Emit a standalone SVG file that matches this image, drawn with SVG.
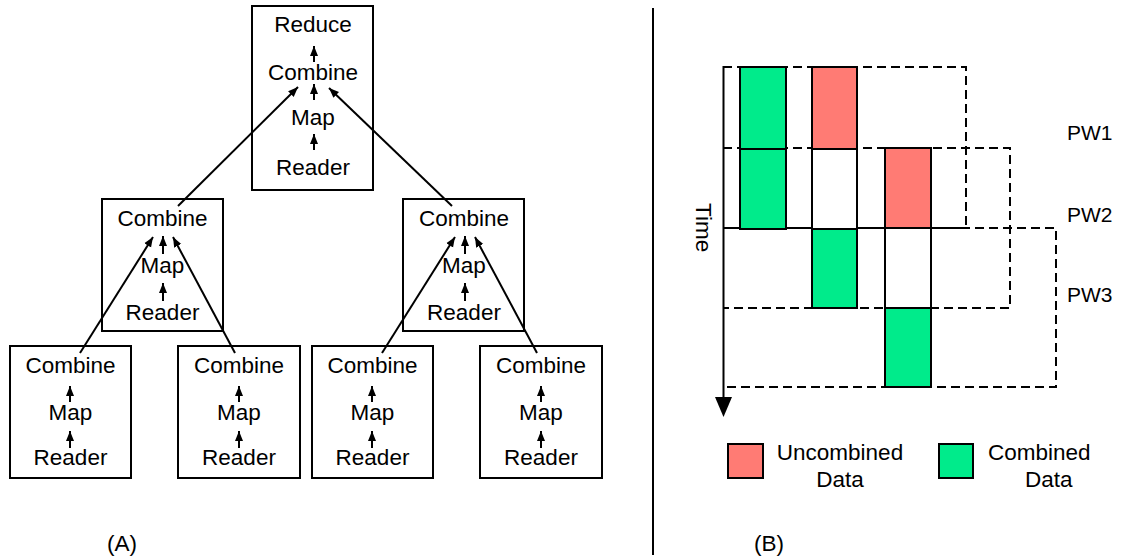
<svg xmlns="http://www.w3.org/2000/svg" width="1126" height="558" viewBox="0 0 1126 558">
  <style>
    text { font-family: "Liberation Sans", Arial, sans-serif; font-size: 22.5px; fill: #000; }
    .c { text-anchor: middle; }
    .box { fill: #fff; stroke: #000; stroke-width: 2; }
    .ln { stroke: #000; stroke-width: 2; fill: none; }
    .arr { stroke: #000; stroke-width: 2; fill: none; marker-end: url(#ah); }
    .dash { stroke: #000; stroke-width: 2; fill: none; stroke-dasharray: 9 5; }
    .col { stroke: #000; stroke-width: 2; }
    .red { fill: #ff7b74; }
    .grn { fill: #00eb8b; }
    .wht { fill: #fff; }
  </style>
  <defs>
    <marker id="ah" markerUnits="userSpaceOnUse" markerWidth="11" markerHeight="9" refX="10" refY="4.5" orient="auto">
      <path d="M0,0.5 L10,4.5 L0,8.5 z" fill="#000"/>
    </marker>
  </defs>
  <rect width="1126" height="558" fill="#fff"/>

  <!-- (A) tree of readers, mappers, combiners -->
  <g id="node-top">
    <rect class="box" x="252" y="6" width="121" height="184"/>
    <text class="c" x="313" y="32">Reduce</text>
    <text class="c" x="313" y="80">Combine</text>
    <text class="c" x="313" y="125">Map</text>
    <text class="c" x="313" y="175">Reader</text>
    <line class="arr" x1="314" y1="62" x2="314" y2="46"/>
    <line class="arr" x1="314" y1="100" x2="314" y2="84"/>
    <line class="arr" x1="314" y1="150" x2="314" y2="134"/>
  </g>

  <g id="node-mid-left">
    <rect class="box" x="102" y="199" width="121" height="132"/>
    <text class="c" x="162.5" y="226">Combine</text>
    <text class="c" x="162.5" y="273">Map</text>
    <text class="c" x="162.5" y="320">Reader</text>
    <line class="arr" x1="163" y1="254" x2="163" y2="236"/>
    <line class="arr" x1="163" y1="301" x2="163" y2="283"/>
  </g>

  <g id="node-mid-right">
    <rect class="box" x="403" y="199" width="121" height="132"/>
    <text class="c" x="464" y="226">Combine</text>
    <text class="c" x="464" y="273">Map</text>
    <text class="c" x="464" y="320">Reader</text>
    <line class="arr" x1="465" y1="254" x2="465" y2="236"/>
    <line class="arr" x1="465" y1="301" x2="465" y2="283"/>
  </g>

  <g id="node-leaf-1">
    <rect class="box" x="10" y="346" width="121" height="132"/>
    <text class="c" x="70.5" y="373">Combine</text>
    <text class="c" x="70.5" y="420">Map</text>
    <text class="c" x="70.5" y="465">Reader</text>
    <line class="arr" x1="70" y1="402" x2="70" y2="386"/>
    <line class="arr" x1="70" y1="448" x2="70" y2="431"/>
  </g>

  <g id="node-leaf-2">
    <rect class="box" x="178" y="346" width="122" height="132"/>
    <text class="c" x="239" y="373">Combine</text>
    <text class="c" x="239" y="420">Map</text>
    <text class="c" x="239" y="465">Reader</text>
    <line class="arr" x1="239" y1="402" x2="239" y2="386"/>
    <line class="arr" x1="239" y1="448" x2="239" y2="431"/>
  </g>

  <g id="node-leaf-3">
    <rect class="box" x="312" y="346" width="121" height="132"/>
    <text class="c" x="372.5" y="373">Combine</text>
    <text class="c" x="372.5" y="420">Map</text>
    <text class="c" x="372.5" y="465">Reader</text>
    <line class="arr" x1="372" y1="402" x2="372" y2="386"/>
    <line class="arr" x1="372" y1="448" x2="372" y2="431"/>
  </g>

  <g id="node-leaf-4">
    <rect class="box" x="480" y="346" width="122" height="132"/>
    <text class="c" x="541" y="373">Combine</text>
    <text class="c" x="541" y="420">Map</text>
    <text class="c" x="541" y="465">Reader</text>
    <line class="arr" x1="541" y1="402" x2="541" y2="386"/>
    <line class="arr" x1="541" y1="448" x2="541" y2="431"/>
  </g>

  <g id="connectors">
    <line class="arr" x1="178" y1="206" x2="298" y2="87"/>
    <line class="arr" x1="452" y1="206" x2="329" y2="88"/>
    <line class="arr" x1="80" y1="353" x2="153" y2="237"/>
    <line class="arr" x1="235" y1="353" x2="173" y2="237"/>
    <line class="arr" x1="382" y1="353" x2="455" y2="237"/>
    <line class="arr" x1="537" y1="353" x2="475" y2="237"/>
  </g>

  <text x="107" y="551">(A)</text>

  <!-- divider between the two panels -->
  <line class="ln" x1="653" y1="8" x2="653" y2="555"/>

  <!-- (B) pipelined windows over time -->
  <g id="windows">
    <path class="dash" d="M723,67 H966 V228 H723"/>
    <path class="dash" d="M723,148 H1010 V308 H723"/>
    <path class="dash" d="M723,228 H1056 V387 H723"/>
  </g>

  <g id="time-axis">
    <line class="ln" x1="723.5" y1="66" x2="723.5" y2="398"/>
    <polygon points="715,397 732,397 723.5,417" fill="#000"/>
    <text x="696" y="203" transform="rotate(90 696 203)">Time</text>
  </g>

  <g id="column-1">
    <rect class="col grn" x="740" y="67" width="46" height="82"/>
    <rect class="col grn" x="740" y="149" width="46" height="80"/>
  </g>
  <g id="column-2">
    <rect class="col red" x="812" y="67" width="45" height="82"/>
    <rect class="col wht" x="812" y="149" width="45" height="80"/>
    <rect class="col grn" x="812" y="229" width="45" height="79"/>
  </g>
  <g id="column-3">
    <rect class="col red" x="885" y="148" width="46" height="80"/>
    <rect class="col wht" x="885" y="228" width="46" height="80"/>
    <rect class="col grn" x="885" y="308" width="46" height="79"/>
  </g>

  <g id="window-labels">
    <text x="1067" y="140" style="font-size:21px">PW1</text>
    <text x="1067" y="222" style="font-size:21px">PW2</text>
    <text x="1067" y="302" style="font-size:21px">PW3</text>
  </g>

  <g id="legend">
    <rect class="col red" x="728" y="444" width="35" height="34"/>
    <text class="c" x="840" y="460">Uncombined</text>
    <text class="c" x="840" y="487">Data</text>
    <rect class="col grn" x="939" y="444" width="34" height="34"/>
    <text x="988" y="460">Combined</text>
    <text x="1025" y="487">Data</text>
  </g>

  <text x="754" y="551">(B)</text>
</svg>
